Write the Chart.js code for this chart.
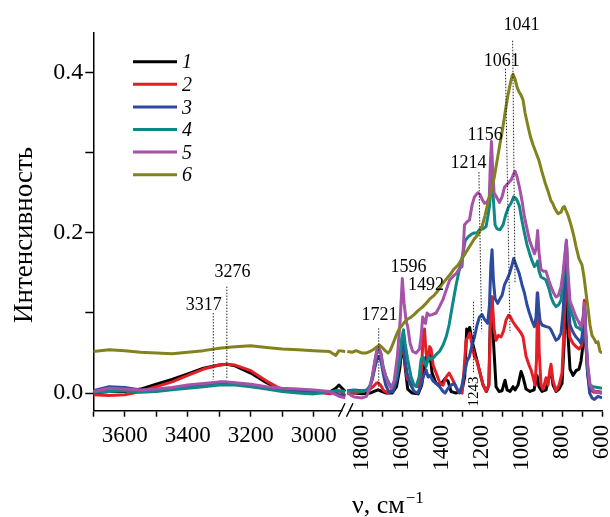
<!DOCTYPE html>
<html><head><meta charset="utf-8">
<script src="https://cdn.jsdelivr.net/npm/chart.js@4.4.1/dist/chart.umd.min.js"></script>
<style>html,body{margin:0;padding:0;background:#fff;}canvas{display:block;}</style>
</head><body>
<canvas id="c" width="610" height="517"></canvas>
<script>
// ---------- DATA ----------
const seriesNames = ['1','2','3','4','5','6'];
const seriesColors = ['#000000','#e41e26','#2c4a9e','#0f8787','#a552a8','#82821e'];

// high-wavenumber segment (cm^-1)
const wnLeft = [3700,3650,3600,3550,3500,3450,3400,3350,3300,3276,3250,3200,3150,3100,3050,3000,2950,2930,2920,2900];
const s1Left = [0.000,0.002,0.002,0.005,0.011,0.017,0.024,0.031,0.035,0.036,0.034,0.025,0.013,0.003,0.001,0.002,0.001,0.006,0.010,0.002];
const s2Left = [-0.002,-0.003,-0.002,0.002,0.008,0.014,0.022,0.030,0.035,0.036,0.035,0.028,0.015,0.004,0.002,0.002,-0.001,0.001,0.003,-0.003];
const s3Left = [0.003,0.008,0.007,0.004,0.003,0.005,0.008,0.011,0.012,0.012,0.012,0.010,0.007,0.005,0.004,0.002,0.001,0.000,-0.002,-0.004];
const s4Left = [0.001,0.002,0.003,0.001,0.002,0.004,0.006,0.008,0.010,0.010,0.010,0.008,0.005,0.002,0.000,-0.001,0.001,0.003,0.003,0.002];
const s5Left = [0.002,0.006,0.005,0.004,0.005,0.007,0.010,0.012,0.014,0.014,0.013,0.011,0.008,0.006,0.005,0.004,0.002,-0.002,-0.004,-0.006];
const s6Left = [0.052,0.054,0.053,0.051,0.050,0.049,0.051,0.053,0.056,0.057,0.058,0.059,0.057,0.055,0.054,0.053,0.052,0.047,0.053,0.052];

// fingerprint segment: [wavenumber, intensity]
const s1Right = [[1875,0.001],[1840,0.000],[1800,-0.001],[1760,0.000],[1740,0.002],[1721,0.004],[1700,0.002],[1680,0.000],[1650,0.000],[1628,0.008],[1612,0.030],[1598,0.064],[1586,0.035],[1572,0.005],[1550,0.000],[1520,-0.001],[1502,0.010],[1490,0.030],[1480,0.045],[1470,0.040],[1460,0.048],[1450,0.025],[1430,0.012],[1410,0.010],[1385,0.018],[1370,0.015],[1355,0.002],[1330,0.000],[1300,0.004],[1287,0.020],[1277,0.080],[1268,0.075],[1262,0.082],[1250,0.065],[1240,0.055],[1225,0.040],[1210,0.025],[1195,0.010],[1178,0.002],[1166,0.010],[1157,0.110],[1150,0.120],[1142,0.060],[1130,0.008],[1115,0.002],[1100,0.003],[1085,0.016],[1075,0.004],[1060,0.002],[1045,0.008],[1035,0.004],[1020,0.010],[1005,0.027],[995,0.020],[980,0.005],[960,0.002],[940,0.004],[925,0.022],[915,0.008],[900,0.002],[880,0.004],[865,0.020],[855,0.029],[845,0.010],[830,0.002],[815,0.005],[800,0.012],[790,0.060],[780,0.170],[772,0.080],[760,0.030],[745,0.022],[730,0.028],[715,0.030],[705,0.040],[695,0.060],[688,0.115],[680,0.060],[672,0.025],[660,0.004],[640,0.002],[620,0.001],[600,0.000]];
const s2Right = [[1875,-0.001],[1840,0.000],[1800,0.002],[1765,0.004],[1745,0.008],[1730,0.012],[1721,0.013],[1708,0.010],[1692,0.003],[1670,0.000],[1650,0.004],[1628,0.020],[1612,0.040],[1598,0.062],[1586,0.040],[1575,0.018],[1560,0.014],[1540,0.010],[1520,0.008],[1505,0.020],[1495,0.070],[1488,0.080],[1480,0.050],[1472,0.042],[1462,0.058],[1455,0.055],[1445,0.035],[1430,0.025],[1410,0.012],[1395,0.010],[1380,0.020],[1365,0.025],[1350,0.018],[1338,0.012],[1320,0.002],[1300,0.000],[1290,0.030],[1280,0.066],[1270,0.070],[1262,0.075],[1250,0.060],[1238,0.045],[1225,0.040],[1210,0.025],[1197,0.012],[1180,0.002],[1166,0.010],[1158,0.090],[1150,0.120],[1140,0.080],[1130,0.066],[1118,0.072],[1105,0.070],[1092,0.078],[1080,0.091],[1068,0.097],[1060,0.096],[1048,0.090],[1035,0.085],[1020,0.080],[1005,0.075],[995,0.070],[980,0.046],[965,0.035],[955,0.029],[945,0.020],[935,0.010],[928,0.040],[921,0.125],[914,0.050],[905,0.010],[895,0.005],[880,0.019],[870,0.010],[860,0.030],[855,0.036],[845,0.015],[830,0.003],[815,0.010],[800,0.025],[790,0.080],[780,0.180],[772,0.120],[762,0.070],[745,0.062],[730,0.058],[715,0.055],[700,0.060],[692,0.090],[688,0.116],[682,0.070],[672,0.030],[660,0.004],[640,0.001],[620,0.002],[600,0.001]];
const s3Right = [[1875,0.003],[1840,0.004],[1800,0.003],[1775,0.004],[1760,0.008],[1748,0.018],[1736,0.032],[1726,0.042],[1717,0.046],[1706,0.040],[1695,0.025],[1682,0.010],[1665,0.001],[1645,0.002],[1625,0.018],[1610,0.045],[1598,0.070],[1588,0.045],[1575,0.025],[1560,0.012],[1540,0.002],[1522,0.000],[1505,0.010],[1495,0.020],[1480,0.029],[1470,0.020],[1460,0.022],[1445,0.015],[1430,0.012],[1413,0.008],[1395,0.002],[1385,0.000],[1370,0.006],[1355,0.010],[1340,0.012],[1325,0.005],[1313,0.000],[1300,0.010],[1288,0.025],[1275,0.040],[1263,0.046],[1250,0.060],[1238,0.070],[1225,0.085],[1213,0.095],[1200,0.098],[1188,0.092],[1172,0.087],[1163,0.110],[1156,0.160],[1150,0.179],[1143,0.140],[1135,0.118],[1122,0.112],[1110,0.118],[1100,0.122],[1088,0.135],[1075,0.142],[1063,0.149],[1052,0.158],[1042,0.168],[1030,0.160],[1015,0.150],[1000,0.135],[988,0.125],[975,0.110],[963,0.100],[950,0.090],[938,0.083],[930,0.095],[924,0.125],[918,0.110],[910,0.090],[900,0.085],[880,0.083],[865,0.082],[855,0.079],[842,0.072],[830,0.066],[818,0.068],[805,0.075],[795,0.100],[785,0.150],[778,0.190],[770,0.120],[760,0.085],[745,0.076],[730,0.070],[715,0.066],[705,0.062],[695,0.080],[688,0.108],[680,0.060],[672,0.025],[662,0.000],[650,-0.006],[638,-0.008],[620,-0.004],[600,-0.006]];
const s4Right = [[1875,0.002],[1840,0.003],[1800,0.002],[1775,0.004],[1760,0.010],[1748,0.022],[1736,0.040],[1726,0.052],[1717,0.056],[1706,0.050],[1695,0.033],[1682,0.021],[1665,0.012],[1650,0.007],[1630,0.020],[1613,0.042],[1602,0.068],[1593,0.079],[1585,0.062],[1572,0.042],[1555,0.020],[1540,0.010],[1530,0.008],[1515,0.020],[1505,0.042],[1495,0.045],[1480,0.033],[1468,0.045],[1455,0.042],[1440,0.045],[1430,0.048],[1413,0.052],[1395,0.060],[1380,0.070],[1365,0.085],[1348,0.110],[1330,0.135],[1313,0.155],[1295,0.175],[1285,0.190],[1270,0.195],[1255,0.198],[1240,0.200],[1225,0.200],[1210,0.205],[1195,0.205],[1180,0.208],[1170,0.222],[1162,0.235],[1155,0.268],[1150,0.270],[1143,0.240],[1135,0.210],[1125,0.205],[1110,0.204],[1095,0.210],[1080,0.224],[1068,0.232],[1055,0.237],[1042,0.245],[1030,0.243],[1020,0.238],[1013,0.233],[1000,0.215],[988,0.200],[975,0.185],[963,0.175],[950,0.165],[938,0.158],[930,0.160],[922,0.165],[915,0.152],[905,0.145],[890,0.143],[880,0.141],[865,0.130],[855,0.120],[842,0.112],[830,0.108],[818,0.110],[805,0.116],[795,0.140],[785,0.170],[778,0.187],[770,0.140],[760,0.105],[745,0.095],[730,0.083],[715,0.081],[705,0.079],[695,0.090],[688,0.108],[680,0.070],[672,0.033],[660,0.010],[645,0.008],[620,0.007],[600,0.006]];
const s5Right = [[1875,0.001],[1860,-0.002],[1840,-0.005],[1800,-0.006],[1778,-0.004],[1765,0.004],[1752,0.016],[1740,0.034],[1728,0.052],[1718,0.058],[1707,0.050],[1695,0.032],[1682,0.021],[1668,0.011],[1655,0.006],[1640,0.015],[1624,0.045],[1610,0.090],[1599,0.143],[1590,0.112],[1580,0.090],[1572,0.083],[1560,0.062],[1547,0.052],[1530,0.050],[1513,0.055],[1505,0.070],[1497,0.095],[1490,0.090],[1483,0.087],[1475,0.100],[1463,0.097],[1450,0.098],[1430,0.100],[1413,0.108],[1397,0.116],[1380,0.128],[1363,0.141],[1345,0.146],[1330,0.149],[1315,0.155],[1300,0.158],[1293,0.185],[1288,0.210],[1275,0.214],[1263,0.216],[1250,0.235],[1238,0.245],[1222,0.250],[1210,0.248],[1200,0.242],[1188,0.237],[1175,0.238],[1164,0.245],[1158,0.290],[1153,0.314],[1147,0.280],[1140,0.250],[1128,0.245],[1113,0.238],[1100,0.245],[1088,0.257],[1070,0.262],[1055,0.266],[1045,0.272],[1035,0.277],[1025,0.270],[1013,0.257],[1000,0.240],[988,0.220],[975,0.205],[963,0.191],[950,0.182],[938,0.174],[930,0.180],[922,0.203],[915,0.175],[905,0.154],[890,0.152],[880,0.152],[865,0.140],[855,0.133],[842,0.125],[830,0.120],[818,0.122],[805,0.133],[795,0.150],[785,0.175],[778,0.191],[770,0.150],[760,0.115],[745,0.105],[730,0.095],[715,0.088],[705,0.083],[695,0.095],[688,0.112],[680,0.070],[672,0.037],[660,0.010],[645,0.004],[630,0.001],[600,0.000]];
const s6Right = [[1875,0.052],[1850,0.051],[1830,0.053],[1800,0.050],[1780,0.050],[1760,0.052],[1740,0.055],[1725,0.058],[1713,0.060],[1700,0.057],[1685,0.053],[1670,0.050],[1660,0.053],[1645,0.062],[1630,0.072],[1615,0.080],[1605,0.083],[1590,0.088],[1575,0.092],[1560,0.094],[1540,0.098],[1520,0.103],[1500,0.107],[1480,0.112],[1460,0.118],[1440,0.122],[1420,0.128],[1400,0.136],[1380,0.142],[1360,0.148],[1340,0.155],[1320,0.160],[1300,0.168],[1280,0.176],[1260,0.184],[1240,0.192],[1220,0.198],[1200,0.208],[1185,0.222],[1170,0.238],[1155,0.252],[1140,0.268],[1125,0.290],[1110,0.312],[1097,0.330],[1085,0.350],[1072,0.370],[1060,0.385],[1050,0.396],[1045,0.398],[1035,0.392],[1025,0.382],[1015,0.376],[1005,0.372],[995,0.366],[985,0.350],[972,0.335],[958,0.320],[945,0.310],[930,0.300],[915,0.290],[900,0.276],[885,0.263],[870,0.252],[855,0.240],[847,0.237],[835,0.230],[820,0.224],[805,0.226],[795,0.232],[788,0.233],[780,0.228],[770,0.222],[760,0.214],[750,0.205],[740,0.195],[730,0.183],[715,0.168],[700,0.160],[690,0.145],[680,0.125],[672,0.110],[660,0.085],[650,0.072],[640,0.068],[630,0.063],[620,0.064],[610,0.052],[600,0.050]];

const leftSeries = [s1Left,s2Left,s3Left,s4Left,s5Left,s6Left];
const rightSeries = [s1Right,s2Right,s3Right,s4Right,s5Right,s6Right];
const drawOrder = [6,5,4,3,2,1]; // lower = drawn on top

// tick labels
const xLeftTicks = [3000,3100,3200,3300,3400,3500,3600,3700];
const xRightTicks = [600,700,800,900,1000,1100,1200,1300,1400,1500,1600,1700,1800];
const yTicks = [0,0.1,0.2,0.3,0.4];

// peak annotations: label, axis, label anchor [wn, value], leader line
const peakLabels = [
  {t:'3317', ax:'xl', at:[3349,0.104], ln:[[3319,0.100],[3319,0.017]]},
  {t:'3276', ax:'xl', at:[3258,0.145], ln:[[3276,0.133],[3276,0.017]]},
  {t:'1721', ax:'xr', at:[1713,0.091], ln:[[1717,0.081],[1717,0.004]]},
  {t:'1596', ax:'xr', at:[1568,0.151]},
  {t:'1492', ax:'xr', at:[1480,0.129]},
  {t:'1214', ax:'xr', at:[1268,0.281], ln:[[1216,0.276],[1202,0.077]]},
  {t:'1156', ax:'xr', at:[1185,0.316]},
  {t:'1061', ax:'xr', at:[1101,0.409], ln:[[1083,0.405],[1060,0.075]]},
  {t:'1041', ax:'xr', at:[1003,0.453], ln:[[1047,0.440],[1035,0.137]]},
  {t:'1243', ax:'xr', at:[1238,0.002], ln:[[1243,0.114],[1243,0.025]], rot:true}
];

// ---------- CHART ----------
const SERIF = '"Liberation Serif", "Times New Roman", serif';
Chart.defaults.font.family = SERIF;
Chart.defaults.color = '#000';

const datasets = [];
seriesNames.forEach((name, i) => {
  const common = {label: name, borderColor: seriesColors[i], backgroundColor: seriesColors[i],
    borderWidth: 3, pointRadius: 0, tension: 0, fill: false, order: drawOrder[i], borderJoinStyle: 'round'};
  datasets.push(Object.assign({}, common, {xAxisID: 'xl', data: wnLeft.map((w, k) => ({x: w, y: leftSeries[i][k]}))}));
  datasets.push(Object.assign({}, common, {xAxisID: 'xr', data: rightSeries[i].map(p => ({x: p[0], y: p[1]}))}));
});

const overlay = {
  id: 'overlay',
  afterDatasetsDraw(chart) {
    const {ctx, scales} = chart;
    const ys = scales.y;
    ctx.save();
    ctx.strokeStyle = '#111';
    ctx.lineWidth = 0.9;
    ctx.setLineDash([1.5, 1.5]);
    peakLabels.forEach(a => {
      if (!a.ln) return;
      const xs = scales[a.ax];
      ctx.beginPath();
      ctx.moveTo(xs.getPixelForValue(a.ln[0][0]), ys.getPixelForValue(a.ln[0][1]));
      ctx.lineTo(xs.getPixelForValue(a.ln[1][0]), ys.getPixelForValue(a.ln[1][1]));
      ctx.stroke();
    });
    ctx.setLineDash([]);
    ctx.fillStyle = '#000';
    peakLabels.forEach(a => {
      const xs = scales[a.ax];
      const px = xs.getPixelForValue(a.at[0]);
      const py = ys.getPixelForValue(a.at[1]);
      if (a.rot) {
        ctx.save();
        ctx.font = '15px ' + SERIF;
        ctx.translate(px, py);
        ctx.rotate(-Math.PI / 2);
        ctx.textAlign = 'center';
        ctx.textBaseline = 'middle';
        ctx.fillText(a.t, 0, 0);
        ctx.restore();
      } else {
        ctx.font = '18px ' + SERIF;
        ctx.textAlign = 'center';
        ctx.textBaseline = 'alphabetic';
        ctx.fillText(a.t, px, py);
      }
    });
    ctx.restore();
  },
  afterDraw(chart) {
    const {ctx, chartArea} = chart;
    ctx.save();
    // legend
    seriesNames.forEach((name, i) => {
      const y = 61.7 + 22.6 * i;
      ctx.strokeStyle = seriesColors[i];
      ctx.lineWidth = 3;
      ctx.beginPath(); ctx.moveTo(133, y); ctx.lineTo(177, y); ctx.stroke();
      ctx.fillStyle = '#000';
      ctx.font = 'italic 20px ' + SERIF;
      ctx.textAlign = 'left'; ctx.textBaseline = 'alphabetic';
      ctx.fillText(name, 182, y + 6.6);
    });
    // y title
    ctx.save();
    ctx.translate(31.5, 235);
    ctx.rotate(-Math.PI / 2);
    ctx.font = '27px ' + SERIF;
    ctx.textAlign = 'center'; ctx.textBaseline = 'alphabetic';
    ctx.fillText('Интенсивность', 0, 0);
    ctx.restore();
    // x title
    ctx.font = '26px ' + SERIF;
    ctx.textAlign = 'left'; ctx.textBaseline = 'alphabetic';
    const main = 'ν, см';
    ctx.fillText(main, 352, 512.5);
    const w = ctx.measureText(main).width;
    ctx.font = '17px ' + SERIF;
    ctx.fillText('−1', 352 + w + 1, 503);
    // axis break
    const by = chartArea.bottom;
    ctx.fillStyle = '#fff';
    ctx.fillRect(342.5, by - 2.5, 7, 5);
    ctx.strokeStyle = '#000';
    ctx.lineWidth = 1.4;
    ctx.beginPath();
    ctx.moveTo(338.5, by + 6); ctx.lineTo(345, by - 7.5);
    ctx.moveTo(346.5, by + 6); ctx.lineTo(353, by - 7.5);
    ctx.stroke();
    ctx.restore();
  }
};

const xCommon = (padding, rot, size) => ({
  type: 'linear', position: 'bottom', stack: 'x', reverse: true,
  ticks: {autoSkip: false, minRotation: rot, maxRotation: rot, padding: padding, font: {size: size}, color: '#000',
    callback: v => (v % 200 === 0 ? String(v) : '')},
  grid: {drawOnChartArea: false, drawTicks: true, tickLength: 6, tickWidth: 1.5, tickColor: '#000'},
  border: {display: true, color: '#000', width: 1.5},
  afterFit: s => { s.height = 106.3; s.paddingLeft = 0; s.paddingRight = 0; }
});

new Chart(document.getElementById('c'), {
  type: 'line',
  data: {datasets},
  plugins: [overlay],
  options: {
    responsive: false, animation: false, devicePixelRatio: 1,
    layout: {padding: {left: 0, top: 32.7, right: 8, bottom: 0}},
    plugins: {legend: {display: false}, tooltip: {enabled: false}, title: {display: false}},
    scales: {
      xl: Object.assign(xCommon(5, 0, 23), {min: 2894, max: 3700, stackWeight: 254,
        afterBuildTicks: s => { s.ticks = xLeftTicks.map(v => ({value: v})); }}),
      xr: Object.assign(xCommon(8, 90, 23), {min: 600, max: 1875, stackWeight: 255,
        afterBuildTicks: s => { s.ticks = xRightTicks.map(v => ({value: v})); }}),
      y: {
        type: 'linear', position: 'left', min: -0.022, max: 0.45,
        afterBuildTicks: s => { s.ticks = yTicks.map(v => ({value: v})); },
        afterFit: s => { s.width = 93.3; s.paddingTop = 0; s.paddingBottom = 0; },
        ticks: {padding: 2, font: {size: 24}, color: '#000',
          callback: v => (Math.round(v * 10) % 2 === 0 ? v.toFixed(1) : '')},
        grid: {drawOnChartArea: false, drawTicks: true, tickLength: 8, tickWidth: 1.5, tickColor: '#000'},
        border: {display: true, color: '#000', width: 1.5}
      }
    }
  }
});
</script>
</body></html>
